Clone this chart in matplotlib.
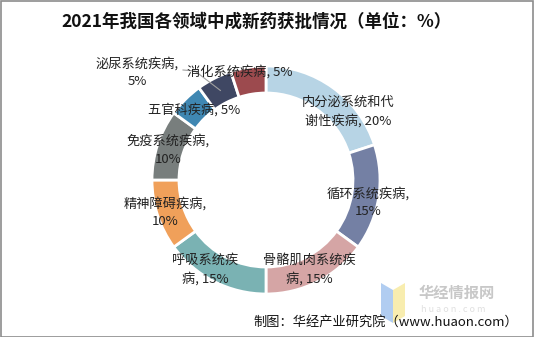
import numpy as np
import matplotlib.pyplot as plt
from matplotlib.patches import Rectangle, Polygon

plt.rcParams['font.family'] = ['Noto Sans CJK SC', 'DejaVu Sans']

# data, clockwise from 12 o'clock
categories = ['内分泌系统和代谢性疾病', '循环系统疾病', '骨骼肌肉系统疾病', '呼吸系统疾病',
              '精神障碍疾病', '免疫系统疾病', '五官科疾病', '泌尿系统疾病', '消化系统疾病']
shares = [20, 15, 15, 15, 10, 10, 5, 5, 5]
label_texts = ['内分泌系统和代\n谢性疾病, 20%', '循环系统疾病,\n15%', '骨骼肌肉系统疾\n病, 15%',
               '呼吸系统疾\n病, 15%', '精神障碍疾病,\n10%', '免疫系统疾病,\n10%',
               '五官科疾病, 5%', '泌尿系统疾病,\n5%', '消化系统疾病, 5%']
colors = ['#B7D4E5', '#7480A4', '#D5A5A5', '#7AB2B3', '#F0A05A',
          '#787E7D', '#3F87B2', '#3F4763', '#9C4A4E']

W, H = 534, 337
fig = plt.figure(figsize=(W / 100, H / 100), dpi=100)
ax = fig.add_axes([0, 0, 1, 1])

cx, cy, R = 266, H - 180, 114
wedges, _ = ax.pie(shares, colors=colors, startangle=90, counterclock=False,
                   center=(cx, cy), radius=R, frame=True,
                   wedgeprops=dict(width=27, edgecolor='white', linewidth=2))
ax.set_xlim(0, W)
ax.set_ylim(0, H)
ax.axis('off')

# label nudges in pixels (right, down) from the ring midline
offsets = {0: (23, 13), 1: (3, 7), 2: (-2, 0), 3: (-15, 0), 4: (-5, 1),
           5: (-2, 1), 6: (-1, 1), 8: (-11, -9)}
rmid = R - 13.5
for i, w in enumerate(wedges):
    ang = np.deg2rad((w.theta1 + w.theta2) / 2)
    x = cx + rmid * np.cos(ang)
    y = cy + rmid * np.sin(ang)
    if i == 7:
        lx, ly = 137, H - 72
        ax.text(lx, ly, label_texts[i], ha='center', va='center',
                fontsize=9.5, color='#222222', linespacing=1.45)
        ax.plot([183, 195, x], [H - 70, H - 71, y], color='#A0A0A0', lw=0.8)
        continue
    dx, dy = offsets.get(i, (0, 0))
    ax.text(x + dx, y - dy, label_texts[i], ha='center', va='center',
            fontsize=9.5, color='#222222', linespacing=1.45)

fig.text(257 / W, 1 - 22 / H, '2021年我国各领域中成新药获批情况（单位：%）',
         ha='center', va='center', fontsize=12.6, fontweight='bold', color='#111111')

# watermark
ax.add_patch(Polygon([(381, H - 283), (393, H - 290), (393, H - 323), (381, H - 316)],
                     closed=True, color='#A9C8F0', alpha=0.9, lw=0))
ax.add_patch(Polygon([(393, H - 290), (405, H - 283), (405, H - 316), (393, H - 323)],
                     closed=True, color='#F8EBA6', alpha=0.9, lw=0))
ax.text(419, H - 293, '华经情报网', fontsize=11, fontweight='bold', color='#C8C8C8',
        ha='left', va='center')
ax.text(421, H - 309, 'h u a o n . c o m', fontsize=6.5, color='#E0E0E0',
        ha='left', va='center')

fig.text(518 / W, 1 - 322 / H, '制图：华经产业研究院（www.huaon.com）',
         ha='right', va='center', fontsize=9.5, color='#111111')

fig.add_artist(Rectangle((0.5 / W, 0.5 / H), 1 - 1.5 / W, 1 - 1.5 / H,
                         transform=fig.transFigure, fill=False,
                         edgecolor='#8C8C8C', lw=1.2))

fig.savefig('out.png', dpi=100)
